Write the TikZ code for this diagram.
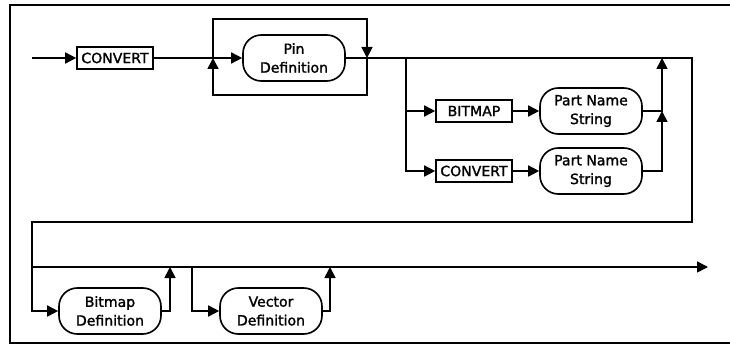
\documentclass[tikz,border=0pt]{standalone}
\usepackage{fontspec}
\setmainfont{DejaVu Sans}
\newfontfamily\plotfont[FakeBold=1.6]{DejaVu Sans}
\usepackage{tikz}
\usetikzlibrary{arrows.meta}
\tikzstyle{keyword} = [draw, line width=1.4pt, minimum width=22.8mm,
  minimum height=6.6mm, inner sep=1pt]
\tikzstyle{nonterm} = [draw, line width=1.4pt, rounded corners=5.5mm,
  minimum width=30.6mm, minimum height=13.8mm, inner sep=1pt, align=center]
\tikzstyle{edge} = [line width=1.4pt]
\tikzstyle{diredge} = [line width=1.4pt, -{Triangle[length=3.3mm,width=3.3mm]}]

\begin{document}
\begin{tikzpicture}[x=0.3mm, y=-0.3mm,
    every node/.style={font=\plotfont\fontsize{12}{16}\selectfont}]
    \useasboundingbox (0,0) rectangle (730,346);
    \draw[line width=1.2pt] (730,5) -- (10,5) -- (10,343) -- (730,343);
    % first row
    \coordinate (start) at (32,58);
    \node[keyword] (convert) at (115,58) {CONVERT};
    \node[nonterm] (pin) at (294,58) {Pin\\Definition};
    \coordinate (loopL) at (213,58);
    \coordinate (loopR) at (367,58);
    \coordinate (split) at (406,58);
    \coordinate (join) at (662,58);
    \coordinate (joinA) at (662,111);
    \coordinate (turnR) at (692,58);
    \coordinate (turnL) at (32,222);
    % part name branches
    \node[keyword] (bitmap) at (474,111) {BITMAP};
    \node[nonterm] (partA) at (591,111) {Part Name\\String};
    \node[keyword] (convertB) at (474,171) {CONVERT};
    \node[nonterm] (partB) at (591,171) {Part Name\\String};
    % second row
    \coordinate (low) at (32,267);
    \node[nonterm] (bmpdef) at (110,311) {Bitmap\\Definition};
    \coordinate (bmpJ) at (170,267);
    \coordinate (vecS) at (192,267);
    \node[nonterm] (vecdef) at (271,311) {Vector\\Definition};
    \coordinate (vecJ) at (330,267);
    \coordinate (stop) at (708,267);

    \draw[diredge] (start) -- (convert);
    \draw[diredge] (convert) -- (pin);
    \draw[diredge] (loopR) -- ++(0,37) -| (loopL);
    \draw[diredge] (loopL) -- ++(0,-39) -| (loopR);
    \draw[edge] (pin) -- (turnR) |- (turnL) -- (low);
    \draw[diredge] (split) |- (bitmap);
    \draw[diredge] (split) |- (convertB);
    \draw[diredge] (bitmap) -- (partA);
    \draw[diredge] (convertB) -- (partB);
    \draw[diredge] (partA) -| (join);
    \draw[diredge] (partB) -| (joinA);
    \draw[diredge] (low) -- (stop);
    \draw[diredge] (low) |- (bmpdef);
    \draw[diredge] (bmpdef) -| (bmpJ);
    \draw[diredge] (vecS) |- (vecdef);
    \draw[diredge] (vecdef) -| (vecJ);
\end{tikzpicture}
\end{document}
